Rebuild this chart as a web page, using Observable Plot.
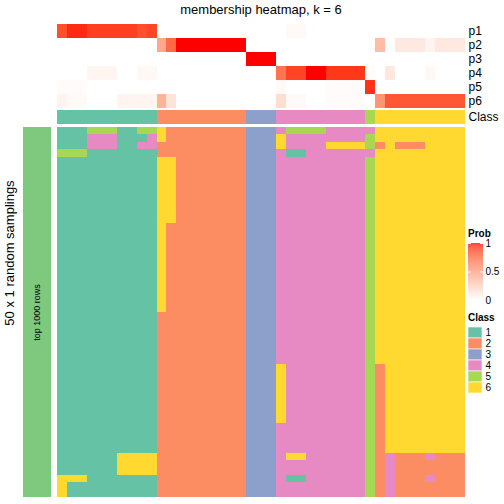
<!DOCTYPE html>
<html><head><meta charset="utf-8">
<script src="https://cdn.jsdelivr.net/npm/d3@7"></script>
<script src="https://cdn.jsdelivr.net/npm/@observablehq/plot@0.6"></script>
<style>
body{margin:0;background:#fff;font-family:"Liberation Sans",Arial,Helvetica,sans-serif;}
#root{position:relative;width:504px;height:504px;overflow:hidden;background:#fff;}
.abs{position:absolute;}
.abs svg{display:block;}
</style></head><body><div id="root"></div>
<script>
const titleText = "membership heatmap, k = 6";
const rowTitle = "50 x 1 random samplings";
const annotationLabel = "top 1000 rows";
const probRows = ["p1","p2","p3","p4","p5","p6"];
const classLabels = [1,2,3,4,5,6];
const classColors = ["#66C2A5","#FC8D62","#8DA0CB","#E78AC3","#A6D854","#FFD92F"];
const legendTicks = [0, 0.5, 1];

// class of each column (41 columns)
const columnClass = [1,1,1,1,1,1,1,1,1,1, 2,2,2,2,2,2,2,2,2, 3,3,3, 4,4,4,4,4,4,4,4,4, 5, 6,6,6,6,6,6,6,6,6];

// membership probabilities per column
const p1 = [0.85,0.95,0.95,0.9,0.9,0.9,0.9,0.9,0.85,0.88, 0,0,0,0,0,0,0,0,0, 0,0,0, 0,0.03,0.03,0,0,0,0,0,0, 0, 0,0,0,0,0,0,0,0,0];
const p2 = [0,0,0,0,0,0,0,0,0,0, 0.45,0.75,1,1,1,1,1,1,1, 0,0,0, 0,0,0,0,0,0,0,0,0, 0, 0.35,0,0.12,0.12,0.12,0.06,0.12,0.12,0.12];
const p3 = [0,0,0,0,0,0,0,0,0,0, 0,0,0,0,0,0,0,0,0, 1,1,1, 0,0,0,0,0,0,0,0,0, 0, 0,0,0,0,0,0,0,0,0];
const p4 = [0,0,0,0.05,0.05,0.05,0,0,0.04,0.04, 0,0,0,0,0,0,0,0,0, 0,0,0, 0.7,0.88,0.88,1,1,0.92,0.92,0.92,0.92, 0.02, 0,0.12,0,0,0,0.04,0,0,0];
const p5 = [0.02,0.02,0.02,0,0,0,0,0,0,0, 0,0,0,0,0,0,0,0,0, 0,0,0, 0.03,0,0,0,0,0.02,0.02,0.02,0.02, 0.93, 0,0,0,0,0,0,0,0,0];
const p6 = [0.06,0.03,0.03,0,0,0,0.06,0.06,0.06,0.06, 0.4,0.15,0,0,0,0,0,0,0, 0,0,0, 0.18,0.03,0.03,0,0,0.02,0.02,0.02,0.02, 0, 0.55,0.82,0.82,0.82,0.82,0.82,0.82,0.82,0.82];

// class assigned in each of the 50 random samplings (one string per row, one digit per column)
const samplings = [
 "1115551155"+"622222222"+"333"+"455554444"+"4"+"666666666",
 "1114441114"+"622222222"+"333"+"644444444"+"5"+"666666666",
 "1114441144"+"222222222"+"333"+"644446666"+"5"+"262226666",
 "5551111111"+"222222222"+"333"+"411444444"+"4"+"666666666",
 "1111111111"+"662222222"+"333"+"444444444"+"5"+"666666666",
 "1111111111"+"662222222"+"333"+"444444444"+"5"+"666666666",
 "1111111111"+"662222222"+"333"+"444444444"+"5"+"666666666",
 "1111111111"+"662222222"+"333"+"444444444"+"5"+"666666666",
 "1111111111"+"662222222"+"333"+"444444444"+"5"+"666666666",
 "1111111111"+"662222222"+"333"+"444444444"+"5"+"666666666",
 "1111111111"+"662222222"+"333"+"444444444"+"5"+"666666666",
 "1111111111"+"662222222"+"333"+"444444444"+"5"+"666666666",
 "1111111111"+"662222222"+"333"+"444444444"+"5"+"666666666",
 "1111111111"+"622222222"+"333"+"444444444"+"5"+"666666666",
 "1111111111"+"622222222"+"333"+"444444444"+"5"+"666666666",
 "1111111111"+"622222222"+"333"+"444444444"+"5"+"666666666",
 "1111111111"+"622222222"+"333"+"444444444"+"5"+"666666666",
 "1111111111"+"622222222"+"333"+"444444444"+"5"+"666666666",
 "1111111111"+"622222222"+"333"+"444444444"+"5"+"666666666",
 "1111111111"+"622222222"+"333"+"444444444"+"5"+"666666666",
 "1111111111"+"622222222"+"333"+"444444444"+"5"+"666666666",
 "1111111111"+"622222222"+"333"+"444444444"+"5"+"666666666",
 "1111111111"+"622222222"+"333"+"444444444"+"5"+"666666666",
 "1111111111"+"622222222"+"333"+"444444444"+"5"+"666666666",
 "1111111111"+"622222222"+"333"+"444444444"+"5"+"666666666",
 "1111111111"+"222222222"+"333"+"444444444"+"5"+"666666666",
 "1111111111"+"222222222"+"333"+"444444444"+"5"+"666666666",
 "1111111111"+"222222222"+"333"+"444444444"+"5"+"666666666",
 "1111111111"+"222222222"+"333"+"444444444"+"5"+"666666666",
 "1111111111"+"222222222"+"333"+"444444444"+"5"+"666666666",
 "1111111111"+"222222222"+"333"+"444444444"+"5"+"666666666",
 "1111111111"+"222222222"+"333"+"444444444"+"5"+"666666666",
 "1111111111"+"222222222"+"333"+"644444444"+"5"+"266666666",
 "1111111111"+"222222222"+"333"+"644444444"+"5"+"266666666",
 "1111111111"+"222222222"+"333"+"644444444"+"5"+"266666666",
 "1111111111"+"222222222"+"333"+"644444444"+"5"+"266666666",
 "1111111111"+"222222222"+"333"+"644444444"+"5"+"266666666",
 "1111111111"+"222222222"+"333"+"644444444"+"5"+"266666666",
 "1111111111"+"222222222"+"333"+"644444444"+"5"+"266666666",
 "1111111111"+"222222222"+"333"+"644444444"+"5"+"266666666",
 "1111111111"+"222222222"+"333"+"444444444"+"5"+"266666666",
 "1111111111"+"222222222"+"333"+"444444444"+"5"+"266666666",
 "1111111111"+"222222222"+"333"+"444444444"+"5"+"266666666",
 "1111111111"+"222222222"+"333"+"444444444"+"5"+"266666666",
 "1111116666"+"222222222"+"333"+"466444444"+"5"+"242224222",
 "1111116666"+"222222222"+"333"+"444444444"+"5"+"242222222",
 "1111116666"+"222222222"+"333"+"444444444"+"5"+"242222222",
 "6661111111"+"222222222"+"333"+"411444444"+"5"+"242224222",
 "6111111111"+"222222222"+"333"+"444444444"+"5"+"242222222",
 "6111111111"+"222222222"+"333"+"444444444"+"5"+"242222222"
];

const FONT = '"Liberation Sans", Arial, Helvetica, sans-serif';
const root = document.getElementById("root");
function place(node, left, top) {
  const d = document.createElement("div");
  d.className = "abs";
  d.style.left = left + "px";
  d.style.top = top + "px";
  d.appendChild(node);
  root.appendChild(d);
  return d;
}
function textDiv(txt, css) {
  const d = document.createElement("div");
  d.className = "abs";
  d.textContent = txt;
  Object.assign(d.style, {fontFamily: FONT, color: "#000", whiteSpace: "nowrap"}, css);
  root.appendChild(d);
  return d;
}

const nCol = columnClass.length;
const colIdx = d3.range(nCol);
const probArrays = [p1, p2, p3, p4, p5, p6];
const probData = [];
probRows.forEach((r, i) => colIdx.forEach(c => probData.push({row: r, col: c, p: probArrays[i][c]})));
const classData = colIdx.map(c => ({row: "Class", col: c, cls: columnClass[c]}));
const sampData = [];
samplings.forEach((s, r) => colIdx.forEach(c => sampData.push({row: r, col: c, cls: +s[c]})));

const classColor = {type: "ordinal", domain: classLabels, range: classColors};
const baseStyle = {fontFamily: FONT, background: "transparent", overflow: "visible", color: "#000"};
const xBand = {type: "band", domain: colIdx, padding: 0, round: false, axis: null};

// Title
textDiv(titleText, {left: "57px", width: "408px", top: "2px", textAlign: "center", fontSize: "13px", lineHeight: "16px"});

// Probability heatmap
place(Plot.plot({
  width: 504, height: 108, marginLeft: 57, marginRight: 39, marginTop: 24, marginBottom: 0,
  style: {...baseStyle, fontSize: "12px"},
  x: xBand,
  y: {type: "band", domain: probRows, padding: 0, round: false, axis: "right", tickSize: 0, tickPadding: 3, label: null},
  color: {type: "linear", domain: [0, 1], range: ["#FFFFFF", "#FF0000"], interpolate: "lab"},
  marks: [Plot.cell(probData, {x: "col", y: "row", fill: "p", shapeRendering: "crispEdges"})]
}), 0, 0);

// Class annotation row
place(Plot.plot({
  width: 504, height: 14, marginLeft: 57, marginRight: 39, marginTop: 0, marginBottom: 0,
  style: {...baseStyle, fontSize: "12px"},
  x: xBand,
  y: {type: "band", domain: ["Class"], padding: 0, round: false, axis: "right", tickSize: 0, tickPadding: 3, label: null},
  color: classColor,
  marks: [Plot.cell(classData, {x: "col", y: "row", fill: "cls", shapeRendering: "crispEdges"})]
}), 0, 110);

// Main sampling heatmap
place(Plot.plot({
  width: 504, height: 370, marginLeft: 57, marginRight: 39, marginTop: 0, marginBottom: 0,
  style: {...baseStyle, fontSize: "12px"},
  x: xBand,
  y: {type: "band", domain: d3.range(samplings.length), padding: 0, round: false, axis: null},
  color: classColor,
  marks: [Plot.cell(sampData, {x: "col", y: "row", fill: "cls", shapeRendering: "crispEdges"})]
}), 0, 127);

// Left annotation bar
place(Plot.plot({
  width: 57, height: 370, marginLeft: 23, marginRight: 6, marginTop: 0, marginBottom: 0,
  style: {...baseStyle, fontSize: "9px"},
  x: {type: "band", domain: [annotationLabel], padding: 0, round: false, axis: null},
  y: {type: "band", domain: [annotationLabel], padding: 0, round: false, axis: null},
  marks: [
    Plot.cell([annotationLabel], {x: d => d, y: d => d, fill: "#7FC97F"}),
    Plot.text([annotationLabel], {x: d => d, y: d => d, text: d => d, rotate: -90, fontSize: 9, fill: "#000"})
  ]
}), 0, 127);

// Row title
textDiv(rowTitle, {left: "-140px", top: "245px", width: "300px", height: "16px", lineHeight: "16px", textAlign: "center", fontSize: "13px", transform: "rotate(-90deg)"});

// Prob legend
textDiv("Prob", {left: "468px", top: "228px", fontSize: "10px", fontWeight: "bold", lineHeight: "12px"});
const gradSteps = d3.range(0, 1, 0.01);
place(Plot.plot({
  width: 44, height: 74, marginLeft: 8, marginRight: 21, marginTop: 13, marginBottom: 4,
  style: {...baseStyle, fontSize: "10px"},
  x: {type: "linear", domain: [0, 1], axis: null},
  y: {type: "linear", domain: [0, 1], axis: "right", ticks: legendTicks, tickSize: 0, tickPadding: 2, tickFormat: d => String(d), label: null},
  color: {type: "linear", domain: [0, 1], range: ["#FFFFFF", "#FF0000"], interpolate: "lab"},
  marks: [
    Plot.rect(gradSteps, {x1: () => 0, x2: () => 1, y1: d => d, y2: d => Math.min(1, d + 0.0105), fill: d => d + 0.005}),
    Plot.ruleY(legendTicks.slice(1), {x1: () => 0, x2: () => 0.2, stroke: "white", strokeWidth: 1}),
    Plot.ruleY(legendTicks.slice(1), {x1: () => 0.8, x2: () => 1, stroke: "white", strokeWidth: 1})
  ]
}), 460, 230);

// Class legend
textDiv("Class", {left: "468px", top: "312px", fontSize: "10px", fontWeight: "bold", lineHeight: "12px"});
place(Plot.plot({
  width: 44, height: 66, marginLeft: 8, marginRight: 22, marginTop: 0, marginBottom: 0,
  style: {...baseStyle, fontSize: "10px"},
  x: {type: "band", domain: ["Class"], padding: 0, round: false, axis: null},
  y: {type: "band", domain: classLabels, padding: 0, round: false, axis: "right", tickSize: 0, tickPadding: 3, label: null},
  color: classColor,
  marks: [Plot.cell(classLabels, {x: () => "Class", y: d => d, fill: d => d, stroke: "#ffffff", strokeWidth: 0.6})]
}), 460, 327);
</script>
</body></html>
